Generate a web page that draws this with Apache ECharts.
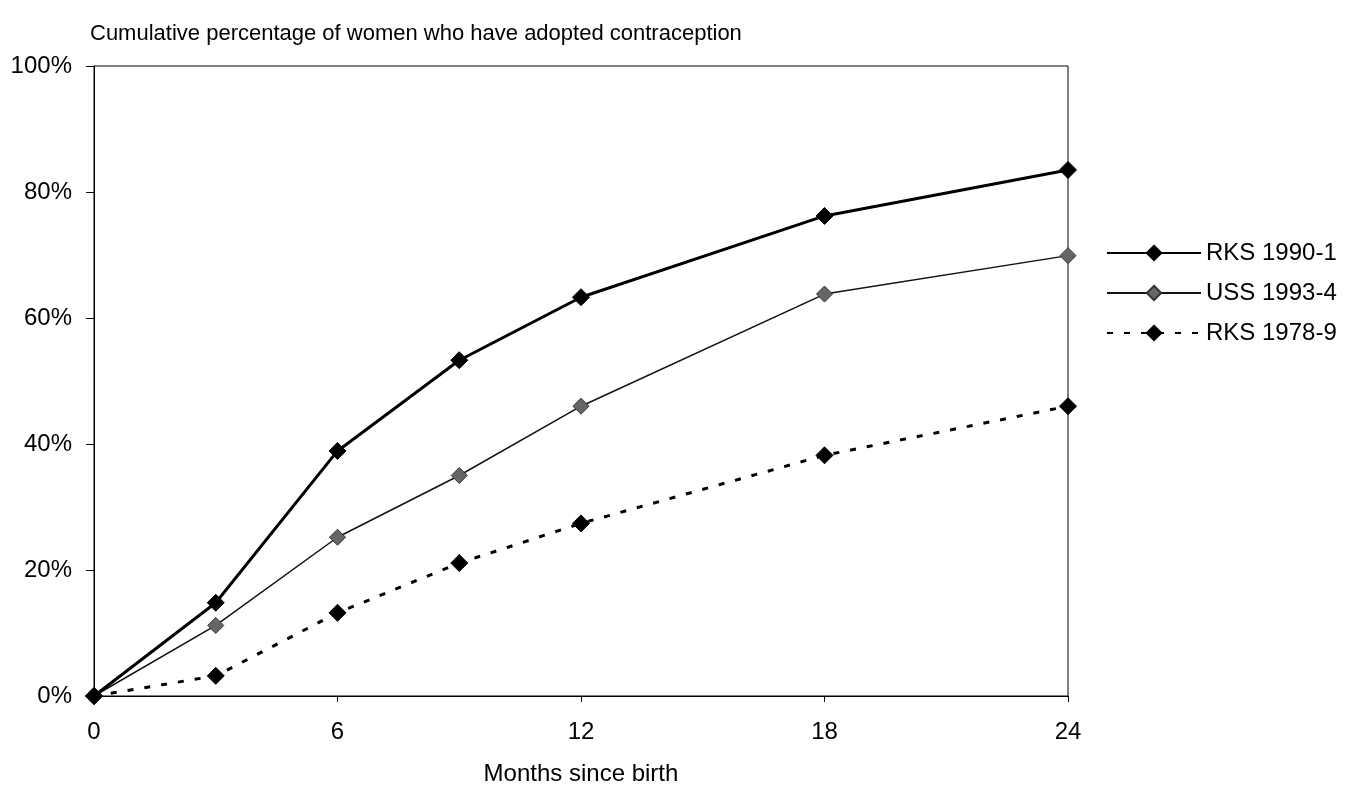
<!DOCTYPE html>
<html>
<head>
<meta charset="utf-8">
<script src="https://cdn.jsdelivr.net/npm/echarts@6/dist/echarts.min.js"></script>
<style>
html,body{margin:0;padding:0;background:#fff;}
#chart{width:1350px;height:785px;}
</style>
</head>
<body>
<div id="chart"></div>
<script>
const months = [0, 3, 6, 9, 12, 18, 24];
const rks1990 = [0, 14.8, 38.9, 53.3, 63.3, 76.2, 83.5];
const uss1993 = [0, 11.2, 25.2, 35.0, 46.0, 63.8, 69.9];
const rks1978 = [0, 3.2, 13.2, 21.1, 27.4, 38.2, 46.0];
const seriesNames = ['RKS 1990-1', 'USS 1993-4', 'RKS 1978-9'];
const xTicks = [0, 6, 12, 18, 24];
const yTicks = [0, 20, 40, 60, 80, 100];

const pairs = vals => months.map((m, i) => [m, vals[i]]);
const FONT = '"Liberation Sans", Arial, sans-serif';

const chart = echarts.init(document.getElementById('chart'), null, {renderer: 'canvas'});
chart.setOption({
  animation: false,
  backgroundColor: '#ffffff',
  title: {
    text: 'Cumulative percentage of women who have adopted contraception',
    left: 90, top: 23, padding: 0,
    textStyle: {fontFamily: FONT, fontSize: 22, fontWeight: 'normal', color: '#000'}
  },
  grid: {left: 94, right: 282, top: 66, bottom: 89, outerBoundsMode: 'none', containLabel: false,
    show: true, borderColor: '#000', borderWidth: 1, backgroundColor: 'transparent'},
  legend: {
    orient: 'vertical', left: 1101, top: 236, itemWidth: 94, itemHeight: 18, itemGap: 16,
    data: seriesNames,
    textStyle: {fontFamily: FONT, fontSize: 24, color: '#000'}
  },
  xAxis: {
    type: 'value', min: xTicks[0], max: xTicks[xTicks.length - 1], interval: 6,
    name: 'Months since birth', nameLocation: 'middle', nameGap: 66,
    nameTextStyle: {fontFamily: FONT, fontSize: 24, color: '#000'},
    axisLine: {lineStyle: {color: '#000', width: 1}},
    axisTick: {show: true, inside: false, length: 6, lineStyle: {color: '#000'}},
    axisLabel: {fontFamily: FONT, fontSize: 24, color: '#000', margin: 24},
    splitLine: {show: false}
  },
  yAxis: {
    type: 'value', min: yTicks[0], max: yTicks[yTicks.length - 1], interval: 20,
    axisLine: {show: true, lineStyle: {color: '#000', width: 1}},
    axisTick: {show: true, inside: false, length: 8, lineStyle: {color: '#000'}},
    axisLabel: {fontFamily: FONT, fontSize: 24, color: '#000', margin: 22, formatter: '{value}%'},
    splitLine: {show: false}
  },
  series: [
    {
      name: seriesNames[0], type: 'line', data: pairs(rks1990),
      symbol: 'diamond', symbolSize: 17, showAllSymbol: true,
      lineStyle: {color: '#000', width: 3},
      itemStyle: {color: '#000', borderColor: '#000', borderWidth: 1},
      z: 4
    },
    {
      name: seriesNames[1], type: 'line', data: pairs(uss1993),
      symbol: 'diamond', symbolSize: 16,
      lineStyle: {color: '#111', width: 1.5},
      itemStyle: {color: '#666', borderColor: '#333', borderWidth: 1},
      z: 3
    },
    {
      name: seriesNames[2], type: 'line', data: pairs(rks1978),
      symbol: 'diamond', symbolSize: 17,
      lineStyle: {color: '#000', width: 3, type: [6, 11]},
      itemStyle: {color: '#000', borderColor: '#000', borderWidth: 1},
      z: 2
    }
  ]
});
</script>
</body>
</html>
